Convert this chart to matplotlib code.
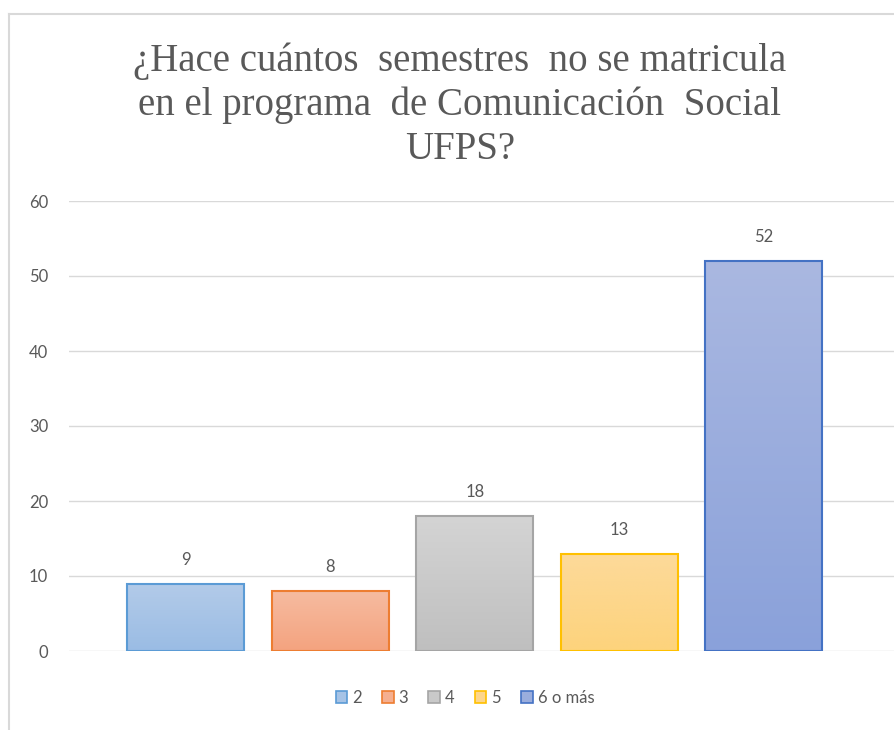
import numpy as np
import matplotlib.pyplot as plt
from matplotlib.colors import LinearSegmentedColormap
from matplotlib.lines import Line2D
from matplotlib.patches import Patch

# data
categories = ['2', '3', '4', '5', '6 o más']
values = [9, 8, 18, 13, 52]
top_colors = ['#b3cbe9', '#f6bba0', '#d4d4d4', '#fdda9a', '#aab8e1']
bottom_colors = ['#9abce4', '#f4a37f', '#bfbfbf', '#fdd37c', '#8aa1da']
edge_colors = ['#5b9bd5', '#ed7d31', '#a5a5a5', '#ffc000', '#4472c4']
mid_colors = ['#a6c3e6', '#f5af90', '#c9c9c9', '#fdd68b', '#9aaddd']

title = '¿Hace cuántos  semestres  no se matricula\nen el programa  de Comunicación  Social\nUFPS?'

plt.rcParams['font.family'] = ['Lato', 'DejaVu Sans']
text_gray = '#595959'

fig = plt.figure(figsize=(8.95, 7.3), dpi=100)
ax = fig.add_axes([69/895, 79/730, (895-69)/895, 450/730])

x = np.arange(len(categories))
bar_width = 0.81

bars = ax.bar(x, values, bar_width, facecolor='none',
              edgecolor=edge_colors, linewidth=1.5, zorder=3)

# gradient fill for each bar
grad = np.linspace(0, 1, 256).reshape(-1, 1)
for rect, c_top, c_bot in zip(bars, top_colors, bottom_colors):
    cmap = LinearSegmentedColormap.from_list('g', [c_top, c_bot])
    x0 = rect.get_x()
    ax.imshow(grad, cmap=cmap, aspect='auto', zorder=2,
              extent=[x0, x0 + rect.get_width(), 0, rect.get_height()])

for rect, v in zip(bars, values):
    ax.annotate(str(v), (rect.get_x() + rect.get_width()/2., v),
                xytext=(0, 17), textcoords='offset points',
                ha='center', va='center', fontsize=12, color=text_gray)

ax.set_xlim(-0.81, 4.91)
ax.set_ylim(0, 60)
ax.set_yticks(range(0, 61, 10))
ax.set_xticks([])
ax.grid(True, axis='y', color='#d9d9d9', linewidth=1, zorder=0)
ax.set_axisbelow(True)
for s in ax.spines.values():
    s.set_visible(False)
ax.tick_params(axis='y', length=0, pad=15, labelsize=12, labelcolor=text_gray)

fig.text(460/895, 1 - 105/730, title, ha='center', va='center',
         family='Liberation Serif', fontsize=28, color=text_gray,
         linespacing=1.24)

handles = [Patch(facecolor=m, edgecolor=e, linewidth=1.2)
           for m, e in zip(mid_colors, edge_colors)]
fig.legend(handles, categories, loc='center', bbox_to_anchor=(465/895, 1 - 698/730),
           ncol=5, frameon=False, fontsize=12, labelcolor=text_gray,
           handlelength=0.7, handleheight=0.7, handletextpad=0.3,
           columnspacing=1.2)

# chart border (partly cropped)
fig.add_artist(Line2D([9/895, 9/895], [0, 1 - 14/730], color='#d9d9d9', lw=1.5))
fig.add_artist(Line2D([9/895, 1], [1 - 14/730, 1 - 14/730], color='#d9d9d9', lw=1.5))

fig.savefig('out.png', dpi=100)
